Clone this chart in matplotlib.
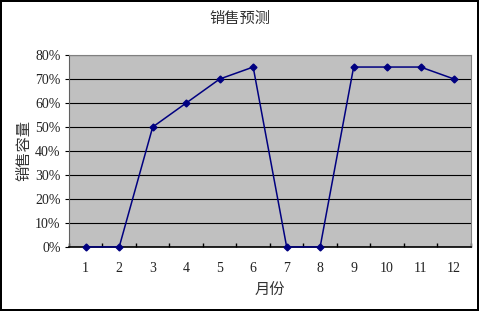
import matplotlib
matplotlib.use("Agg")
import matplotlib.pyplot as plt
from matplotlib.ticker import FixedLocator

months = [str(i) for i in range(1, 13)]
sales = [0, 0, 50, 60, 70, 75, 0, 0, 75, 75, 75, 70]
y_ticks = [0, 10, 20, 30, 40, 50, 60, 70, 80]
y_labels = [f"{v}%" for v in y_ticks]

plt.rcParams['font.family'] = ['Liberation Serif', 'Noto Sans CJK SC']
cjk = ['Noto Sans CJK SC', 'DejaVu Sans']

fig = plt.figure(figsize=(4.79, 3.11), dpi=100)
fig.patch.set_facecolor('white')
fig.patch.set_edgecolor('black')
fig.patch.set_linewidth(1.5)

ax = fig.add_axes([0.144, 0.206, 0.839, 0.617])
ax.set_facecolor('#c0c0c0')
x = list(range(1, 13))
ax.plot(x, sales, color='#000080', lw=1.1, marker='D', markersize=3.5,
        markerfacecolor='#000080', markeredgecolor='#000080', clip_on=False, zorder=3)

ax.set_xlim(0.5, 12.5)
ax.set_ylim(0, 80)
ax.set_yticks(y_ticks)
ax.set_yticklabels(y_labels, fontsize=10, color='#222222')
ax.set_xticks(x)
ax.set_xticklabels(months, fontsize=10, color='#222222')
ax.xaxis.set_minor_locator(FixedLocator([i + 0.5 for i in range(0, 13)]))
ax.tick_params(axis='x', which='major', length=0, pad=11)
ax.tick_params(axis='x', which='minor', length=3, direction='in', width=1)
ax.tick_params(axis='y', length=3, direction='out', width=0.8, pad=3)

ax.grid(axis='y', color='black', lw=0.8)
ax.set_axisbelow(True)
for side in ['top', 'right']:
    ax.spines[side].set_color('#808080')
    ax.spines[side].set_linewidth(0.8)
ax.spines['left'].set_color('#606060')
ax.spines['bottom'].set_color('black')
ax.spines['bottom'].set_linewidth(1.2)

fig.text(0.5, 0.94, '销售预测', fontsize=11, family=cjk, color='#333333',
         ha='center', va='center')
ax.set_xlabel('月份', fontsize=11, family=cjk, color='#333333', labelpad=5)
ax.set_ylabel('销售容量', fontsize=11, family=cjk, color='#333333', labelpad=2)

fig.savefig('out.png', dpi=100, edgecolor=fig.get_edgecolor())
